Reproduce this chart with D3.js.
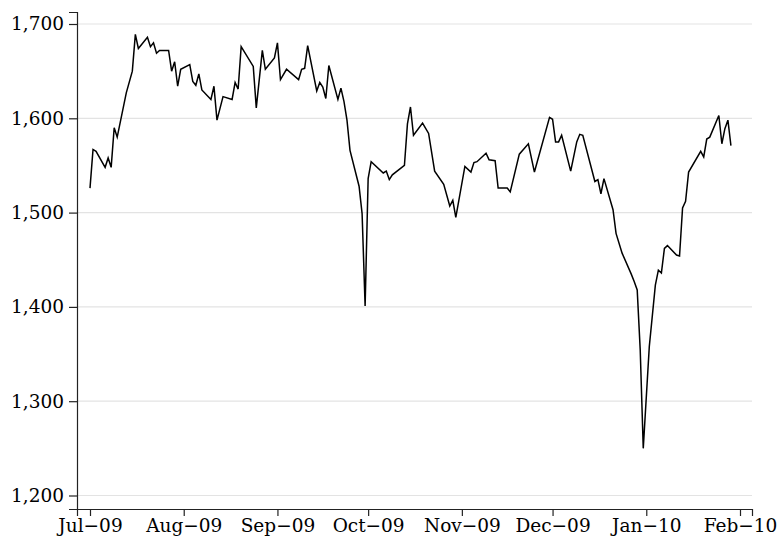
<!DOCTYPE html>
<html>
<head>
<meta charset="utf-8">
<script src="https://cdn.jsdelivr.net/npm/d3@7"></script>
<style>
  html, body { margin: 0; padding: 0; background: #fff; }
  svg { display: block; }
  text { font-family: "DejaVu Serif", "Liberation Serif", serif; fill: #000; }
</style>
</head>
<body>
<svg id="chart" width="777" height="539"></svg>
<script>
// ---- data ----
const dates = [
  "2009-07-01","2009-07-02","2009-07-03","2009-07-06","2009-07-07","2009-07-08","2009-07-09","2009-07-10",
  "2009-07-13","2009-07-15","2009-07-16","2009-07-17","2009-07-20","2009-07-21","2009-07-22","2009-07-23",
  "2009-07-24","2009-07-27","2009-07-28","2009-07-29","2009-07-30","2009-07-31",
  "2009-08-03","2009-08-04","2009-08-05","2009-08-06","2009-08-07","2009-08-10","2009-08-11","2009-08-12",
  "2009-08-14","2009-08-17","2009-08-18","2009-08-19","2009-08-20","2009-08-24","2009-08-25","2009-08-27",
  "2009-08-28","2009-08-31",
  "2009-09-01","2009-09-02","2009-09-04","2009-09-08","2009-09-09","2009-09-10","2009-09-11","2009-09-14",
  "2009-09-15","2009-09-16","2009-09-17","2009-09-18","2009-09-21","2009-09-22","2009-09-23","2009-09-24",
  "2009-09-25","2009-09-28","2009-09-29","2009-09-30",
  "2009-10-01","2009-10-02","2009-10-06","2009-10-07","2009-10-08","2009-10-09","2009-10-13","2009-10-14",
  "2009-10-15","2009-10-16","2009-10-19","2009-10-21","2009-10-23","2009-10-26","2009-10-28","2009-10-29",
  "2009-10-30",
  "2009-11-02","2009-11-04","2009-11-05","2009-11-06","2009-11-09","2009-11-10","2009-11-12","2009-11-13",
  "2009-11-16","2009-11-17","2009-11-20","2009-11-23","2009-11-25","2009-11-30",
  "2009-12-01","2009-12-02","2009-12-03","2009-12-04","2009-12-07","2009-12-09","2009-12-10","2009-12-11",
  "2009-12-15","2009-12-16","2009-12-17","2009-12-18","2009-12-21","2009-12-22","2009-12-24","2009-12-27",
  "2009-12-28","2009-12-29","2009-12-30","2009-12-31",
  "2010-01-02","2010-01-04","2010-01-05","2010-01-06","2010-01-07","2010-01-08","2010-01-11","2010-01-12",
  "2010-01-13","2010-01-14","2010-01-15","2010-01-19","2010-01-20","2010-01-21","2010-01-22","2010-01-25",
  "2010-01-26","2010-01-27","2010-01-28","2010-01-29"
];
const values = [
  1526,1567,1565,1548,1558,1548,1590,1580,
  1627,1650,1689,1674,1686,1676,1680,1669,
  1672,1672,1650,1660,1634,1652,
  1657,1639,1635,1647,1630,1620,1634,1598,
  1623,1620,1638,1631,1676,1655,1611,1672,
  1652,1664,
  1680,1641,1652,1641,1652,1653,1677,1629,
  1638,1633,1621,1656,1620,1632,1618,1598,
  1566,1528,1499,1401,
  1536,1554,1542,1544,1535,1540,1550,1594,
  1612,1582,1595,1584,1544,1530,1507,1513,
  1495,
  1549,1543,1553,1554,1563,1556,1555,1526,
  1526,1522,1562,1573,1543,1601,
  1599,1575,1575,1582,1544,1575,1583,1582,
  1533,1535,1520,1536,1503,1478,1457,1435,
  1427,1418,1354,1250,
  1358,1423,1439,1436,1462,1465,1455,1454,
  1505,1512,1543,1565,1559,1578,1580,1603,
  1573,1589,1598,1571
];
const yTicks = [1200, 1300, 1400, 1500, 1600, 1700];
const xTickDates = ["2009-07-01","2009-08-01","2009-09-01","2009-10-01","2009-11-01","2009-12-01","2010-01-01","2010-02-01"];

// ---- drawing ----
const parse = d3.timeParse("%Y-%m-%d");
const data = dates.map((d, i) => ({ date: parse(d), value: values[i] }));

const svg = d3.select("#chart");
const plotLeft = 77, plotRight = 752, plotTop = 12, plotBottom = 509;
const FONT = "DejaVu Serif, Liberation Serif, serif";
const FS = 18.5;

// x scale anchored on month ticks, then extended to plot edges
const x = d3.scaleTime()
  .domain([parse("2009-07-01"), parse("2010-02-01")])
  .range([90, 740]);
x.domain([x.invert(plotLeft), x.invert(plotRight)]).range([plotLeft, plotRight]);

const y = d3.scaleLinear()
  .domain([1200, 1700])
  .range([495.5, 24]);
y.domain([y.invert(plotBottom), y.invert(plotTop)]).range([plotBottom, plotTop]);

// gridlines
svg.append("g")
  .selectAll("line")
  .data(yTicks)
  .join("line")
  .attr("x1", plotLeft).attr("x2", plotRight)
  .attr("y1", d => y(d)).attr("y2", d => y(d))
  .attr("stroke", "#e3e3e3")
  .attr("stroke-width", 1.2);

const fmt = d3.format(",");
const monthFmt = d3.timeFormat("%b");
const yrFmt = d3.timeFormat("%y");

// y axis
const yAxis = svg.append("g")
  .attr("transform", `translate(${plotLeft},0)`)
  .call(d3.axisLeft(y).tickValues(yTicks).tickFormat(fmt).tickSize(8).tickPadding(5));
yAxis.select(".domain").attr("stroke", "#222").attr("stroke-width", 1.2);
yAxis.selectAll(".tick line").attr("stroke", "#222").attr("stroke-width", 1.2);
yAxis.selectAll(".tick text")
  .attr("font-family", FONT)
  .attr("font-size", FS).attr("fill", "#000");

// x axis
const xAxis = svg.append("g")
  .attr("transform", `translate(0,${plotBottom})`)
  .call(d3.axisBottom(x)
    .tickValues(xTickDates.map(parse))
    .tickFormat(d => monthFmt(d) + "\u2212" + yrFmt(d))
    .tickSize(7).tickPadding(3));
xAxis.select(".domain").attr("stroke", "#222").attr("stroke-width", 1.2);
xAxis.selectAll(".tick line").attr("stroke", "#222").attr("stroke-width", 1.2);
xAxis.selectAll(".tick text")
  .attr("font-family", FONT)
  .attr("font-size", FS).attr("fill", "#000");

// series line
const line = d3.line()
  .x(d => x(d.date))
  .y(d => y(d.value));
svg.append("path")
  .datum(data)
  .attr("fill", "none")
  .attr("stroke", "#000")
  .attr("stroke-width", 1.5)
  .attr("stroke-linejoin", "miter")
  .attr("d", line);
</script>
</body>
</html>
